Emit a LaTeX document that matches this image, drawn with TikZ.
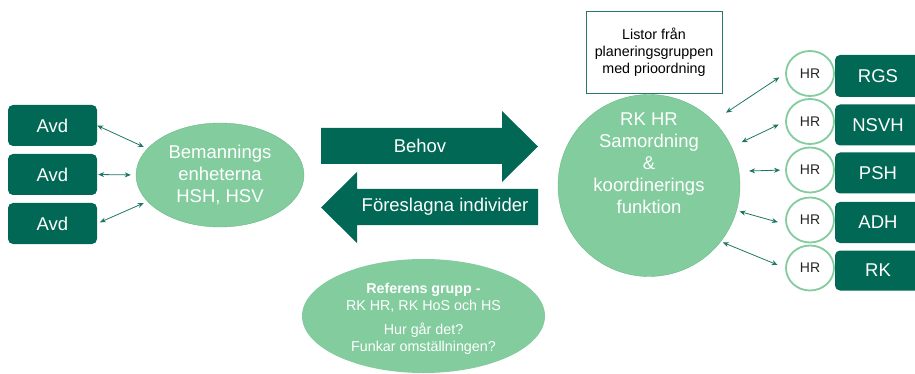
\documentclass[tikz,border=0pt]{standalone}
\usepackage{fontspec}
\setmainfont{Liberation Sans}
\usetikzlibrary{arrows.meta,shapes.geometric}
\definecolor{darkgreen}{RGB}{0,104,84}
\definecolor{lightgreen}{RGB}{130,204,158}
\definecolor{edgegreen}{RGB}{108,188,138}
\definecolor{linkteal}{RGB}{30,118,100}
\definecolor{listline}{RGB}{40,120,105}

\tikzset{
  unitbox/.style={fill=darkgreen, rounded corners=5pt, text=white,
    minimum width=89pt, minimum height=41pt, inner sep=0pt,
    font=\fontsize{18.5}{22}\selectfont},
  hubshape/.style={fill=lightgreen, draw=edgegreen, text=white, align=center,
    inner sep=0pt, font=\fontsize{18.5}{22}\selectfont},
  hrring/.style={ellipse, draw=lightgreen, line width=1.8pt, fill=white,
    minimum width=48pt, minimum height=45pt, inner sep=0pt, text=black!85,
    font=\fontsize{14}{16}\selectfont},
  link/.style={linkteal, line width=0.8pt,
    {Stealth[length=6pt,width=5pt]}-{Stealth[length=6pt,width=5pt]}},
  arrowtext/.style={text=white, font=\fontsize{18.5}{22}\selectfont}
}

\begin{document}
\begin{tikzpicture}[x=1pt,y=-1pt]
  \useasboundingbox (0,0) rectangle (915,374);
  % Avdelningar
  \node[unitbox] (avd1) at (52.5,125.5) {Avd};
  \node[unitbox] (avd2) at (52.5,174.5) {Avd};
  \node[unitbox] (avd3) at (52.5,223.5) {Avd};
  % Bemanningsenheterna
  \node[hubshape, ellipse, minimum width=168pt, minimum height=104pt]
    (bem) at (220,175) {Bemannings\\enheterna\\HSH, HSV};
  \draw[link, shorten >=4pt] (avd1.east) -- (bem.160);
  \draw[link, shorten >=5pt, shorten <=1pt] (avd2.east) -- (bem.west);
  \draw[link, shorten >=4pt, shorten <=3pt] (avd3.east) -- (bem.200);
  % Behov / Foreslagna individer
  \fill[darkgreen] (321,128) -- (502,128) -- (502,111) -- (538,146.5)
    -- (502,182) -- (502,164) -- (321,164) -- cycle;
  \node[arrowtext] (behov) at (420,146) {Behov};
  \fill[darkgreen] (538,189) -- (357,189) -- (357,172) -- (321,207.5)
    -- (357,243) -- (357,225) -- (538,225) -- cycle;
  \node[arrowtext] (forslag) at (445,207) {Föreslagna individer};
  % Referensgrupp
  \node[ellipse, fill=lightgreen, minimum width=243pt, minimum height=114pt]
    (ref) at (423.5,316) {};
  \node[text=white, align=center, font=\fontsize{14.3}{17}\selectfont]
    (reftext) at (423.5,318.5) {\textbf{Referens grupp -}\\RK HR, RK HoS och HS\\[7pt]
    Hur går det?\\Funkar omställningen?};
  % Listor
  \node[draw=listline, line width=0.8pt, minimum width=136pt, minimum height=82pt,
    align=center, font=\fontsize{14.3}{17}\selectfont]
    (listor) at (654,52) {Listor från\\planeringsgruppen\\med prioordning};
  % RK HR samordning
  \node[hubshape, circle, minimum size=182pt] (hub) at (649,185.5) {};
  \node[text=white, align=center, font=\fontsize{18.5}{22}\selectfont]
    (hubtext) at (649,163) {RK HR\\Samordning\\\&\\koordinerings\\funktion};
  % Forvaltningar
  \node[unitbox, minimum width=86pt, minimum height=42pt] (rgs)  at (878,76)  {RGS};
  \node[unitbox, minimum width=86pt, minimum height=41pt] (nsvh) at (878,125) {NSVH};
  \node[unitbox, minimum width=86pt, minimum height=41pt] (psh)  at (878,173) {PSH};
  \node[unitbox, minimum width=86pt, minimum height=41pt] (adh)  at (878,222.5) {ADH};
  \node[unitbox, minimum width=86pt, minimum height=40pt] (rk)   at (878,270.5) {RK};
  \node[hrring] (hr1) at (810,73.5) {HR};
  \node[hrring] (hr2) at (810,121.5) {HR};
  \node[hrring] (hr3) at (810,170) {HR};
  \node[hrring] (hr4) at (810,220) {HR};
  \node[hrring] (hr5) at (810,268) {HR};
  \draw[link, shorten <=15pt, shorten >=7pt] (hub.45) -- (hr1.west);
  \draw[link, shorten <=11pt, shorten >=7pt] (hub.25) -- (hr2.west);
  \draw[link, shorten <=10pt, shorten >=5pt] (hub.9) -- (hr3.west);
  \draw[link, shorten <=3pt, shorten >=8pt] (hub.-16) -- (hr4.190);
  \draw[link, shorten <=2pt, shorten >=8pt] (hub.-38) -- (hr5.west);
\end{tikzpicture}
\end{document}
